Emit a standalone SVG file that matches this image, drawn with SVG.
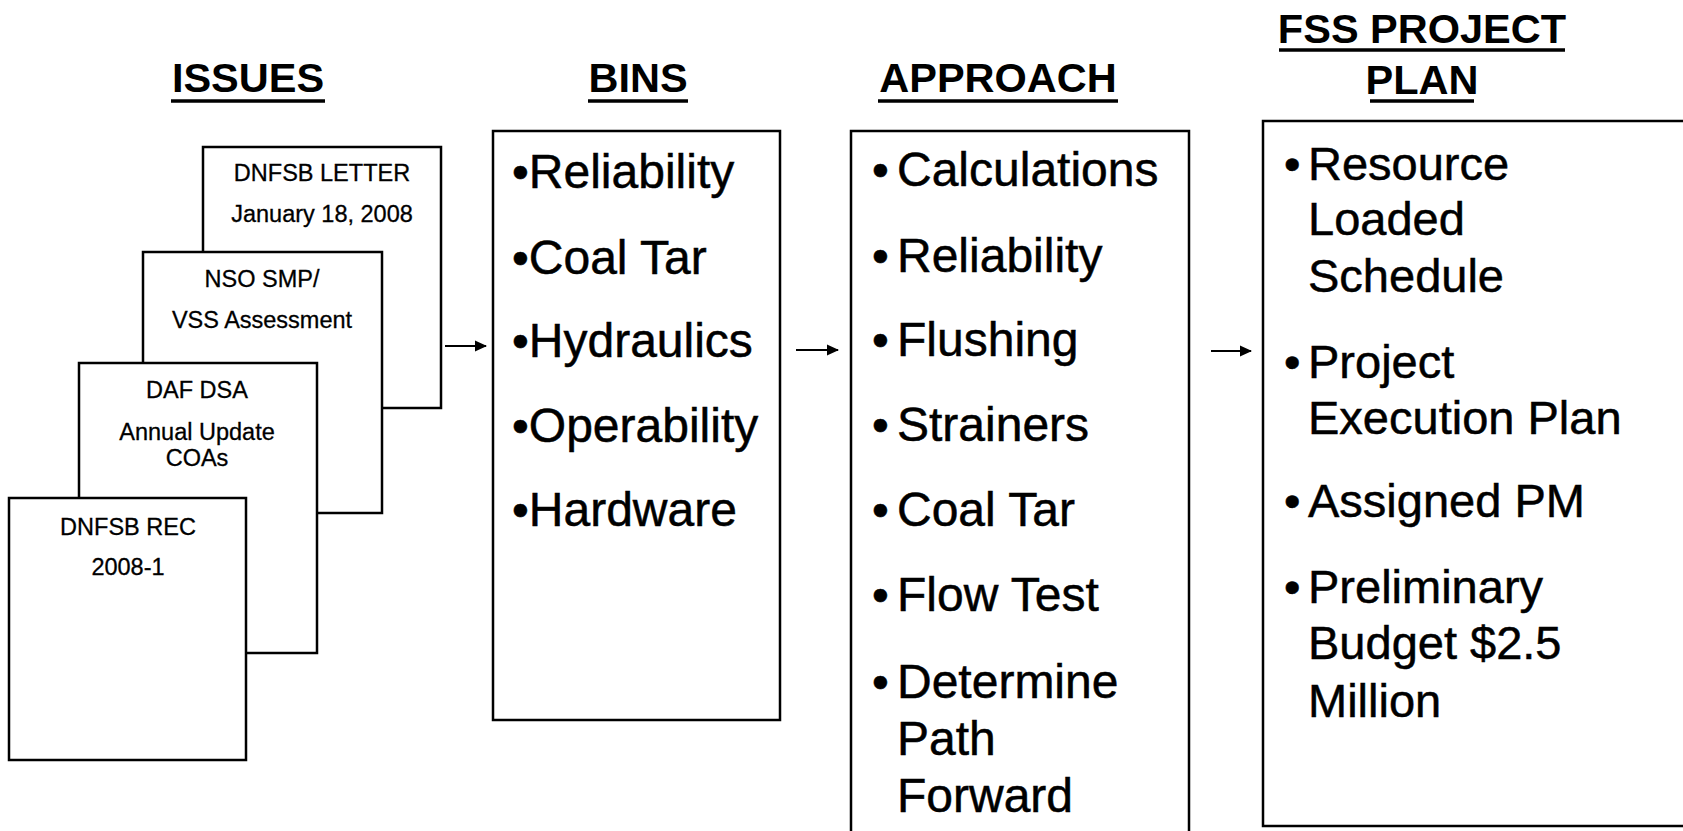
<svg xmlns="http://www.w3.org/2000/svg" width="1683" height="831" viewBox="0 0 1683 831">
<defs>
<style>
.box{fill:#fff;stroke:#000;stroke-width:2.5}
.t{font-family:"Liberation Sans",Arial,sans-serif;fill:#000}
.title{font-size:41.5px;font-weight:bold;text-anchor:middle}
.ul{stroke:#000;stroke-width:3.5}
.small{font-size:23.5px;text-anchor:middle;stroke:#000;stroke-width:0.3}
.big{font-size:48px;stroke:#000;stroke-width:0.5}
.plan{font-size:47px;stroke:#000;stroke-width:0.5}
.conn{stroke:#000;stroke-width:2.2;fill:none}
</style>
<marker id="ah" markerWidth="12" markerHeight="12" refX="11" refY="6" orient="auto" markerUnits="userSpaceOnUse">
<path d="M0,0.5 L12,6 L0,11.5 z" fill="#000"/>
</marker>
</defs>
<rect width="1683" height="831" fill="#fff"/>

<g id="titles" class="t">
<text class="t title" x="248" y="92">ISSUES</text>
<line class="ul" x1="171" y1="101" x2="325" y2="101"/>
<text class="t title" x="638" y="92">BINS</text>
<line class="ul" x1="588" y1="101" x2="688" y2="101"/>
<text class="t title" x="998" y="92">APPROACH</text>
<line class="ul" x1="878" y1="101" x2="1118" y2="101"/>
<text class="t title" x="1422" y="43">FSS PROJECT</text>
<line class="ul" x1="1279" y1="50" x2="1565" y2="50"/>
<text class="t title" x="1422" y="94">PLAN</text>
<line class="ul" x1="1370" y1="101" x2="1474" y2="101"/>
</g>

<g id="issue-letter">
<rect class="box" x="203" y="147" width="238" height="261"/>
<text class="t small" x="322" y="181">DNFSB LETTER</text>
<text class="t small" x="322" y="222">January 18, 2008</text>
</g>
<g id="issue-nso">
<rect class="box" x="143" y="252" width="239" height="261"/>
<text class="t small" x="262" y="287">NSO SMP/</text>
<text class="t small" x="262" y="328">VSS Assessment</text>
</g>
<g id="issue-daf">
<rect class="box" x="79" y="363" width="238" height="290"/>
<text class="t small" x="197" y="398">DAF DSA</text>
<text class="t small" x="197" y="440">Annual Update</text>
<text class="t small" x="197" y="466">COAs</text>
</g>
<g id="issue-rec">
<rect class="box" x="9" y="498" width="237" height="262"/>
<text class="t small" x="128" y="535">DNFSB REC</text>
<text class="t small" x="128" y="575">2008-1</text>
</g>

<g id="bins">
<rect class="box" x="493" y="131" width="287" height="589"/>
<g class="t big">
<text x="512" y="188">•Reliability</text>
<text x="512" y="274">•Coal Tar</text>
<text x="512" y="357">•Hydraulics</text>
<text x="512" y="442">•Operability</text>
<text x="512" y="526">•Hardware</text>
</g>
</g>

<g id="approach">
<rect class="box" x="851" y="131" width="338" height="710"/>
<g class="t big">
<text x="872" y="186">•</text><text x="897" y="186">Calculations</text>
<text x="872" y="272">•</text><text x="897" y="272">Reliability</text>
<text x="872" y="356">•</text><text x="897" y="356">Flushing</text>
<text x="872" y="441">•</text><text x="897" y="441">Strainers</text>
<text x="872" y="526">•</text><text x="897" y="526">Coal Tar</text>
<text x="872" y="611">•</text><text x="897" y="611">Flow Test</text>
<text x="872" y="698">•</text><text x="897" y="698">Determine</text>
<text x="897" y="755">Path</text>
<text x="897" y="812">Forward</text>
</g>
</g>

<g id="plan">
<rect class="box" x="1263" y="121" width="440" height="705"/>
<g class="t plan">
<text x="1284" y="180">•</text><text x="1308" y="180">Resource</text>
<text x="1308" y="235">Loaded</text>
<text x="1308" y="292">Schedule</text>
<text x="1284" y="378">•</text><text x="1308" y="378">Project</text>
<text x="1308" y="434">Execution Plan</text>
<text x="1284" y="517">•</text><text x="1308" y="517">Assigned PM</text>
<text x="1284" y="603">•</text><text x="1308" y="603">Preliminary</text>
<text x="1308" y="659">Budget $2.5</text>
<text x="1308" y="717">Million</text>
</g>
</g>

<g id="connectors">
<line class="conn" x1="445" y1="346" x2="486" y2="346" marker-end="url(#ah)"/>
<line class="conn" x1="796" y1="350" x2="838" y2="350" marker-end="url(#ah)"/>
<line class="conn" x1="1211" y1="351" x2="1251" y2="351" marker-end="url(#ah)"/>
</g>
</svg>
